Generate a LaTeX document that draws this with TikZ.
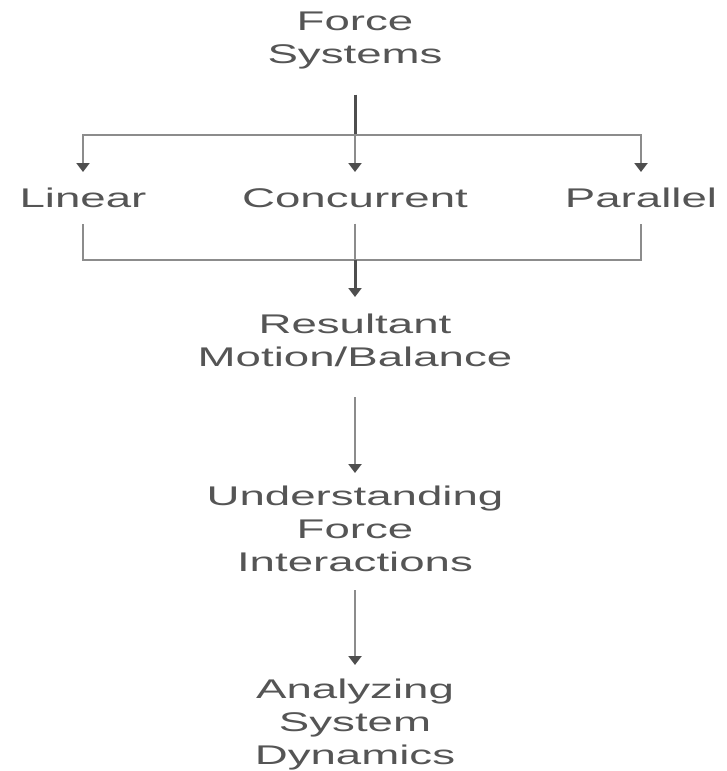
\documentclass[tikz,border=0pt]{standalone}
\usepackage{fontspec}
\setmainfont[FakeStretch=1.69]{Liberation Sans}
\usetikzlibrary{arrows.meta}
\definecolor{txt}{HTML}{555555}
\definecolor{dk}{HTML}{4E4E4E}
\definecolor{lt}{HTML}{8C8C8C}
\begin{document}
\begin{tikzpicture}[x=1pt,y=1pt,
  lbl/.style={inner sep=0pt, align=center, text=txt,
    font=\fontsize{27}{33}\selectfont, anchor=north},
  trunk/.style={draw=dk, line width=3pt},
  branch/.style={draw=lt, line width=2.8pt},
  tip/.style={-{Triangle[width=13pt,length=9pt,color=dk]}}]
\useasboundingbox (0,0) rectangle (726,-771);

% labels
\node[lbl] (fs)  at (355,-12)  {Force\\Systems};
\node[lbl] (lin) at (83,-188)  {Linear};
\node[lbl] (con) at (355,-188) {Concurrent};
\node[lbl] (par) at (641,-188) {Parallel};
\node[lbl] (res) at (355,-314) {Resultant\\Motion/Balance};
\node[lbl] (und) at (355,-486) {Understanding\\Force\\Interactions};
\node[lbl] (ana) at (355,-679) {Analyzing\\System\\Dynamics};

% junctions of the fork and of the merge
\coordinate (split) at (355,-135);
\coordinate (merge) at (355,-260);

% fork into the three kinds of system
\draw[trunk, shorten <=25pt] (fs.south) -- (split);
\draw[branch, tip, shorten >=16pt] (split) -| (lin.north);
\draw[branch, tip, shorten >=16pt] (split) -- (con.north);
\draw[branch, tip, shorten >=16pt] (split) -| (par.north);

% merge into the resultant
\draw[branch, shorten <=16pt] (lin.south) |- (merge);
\draw[branch, shorten <=16pt] (par.south) |- (merge);
\draw[branch, shorten <=16pt] (con.south) -- (merge);
\draw[trunk, tip, shorten >=17pt] (merge) -- (res.north);

% chain below
\draw[branch, tip, shorten <=30pt, shorten >=13pt] (res.south) -- (und.north);
\draw[branch, tip, shorten <=18pt, shorten >=14pt] (und.south) -- (ana.north);
\end{tikzpicture}
\end{document}
